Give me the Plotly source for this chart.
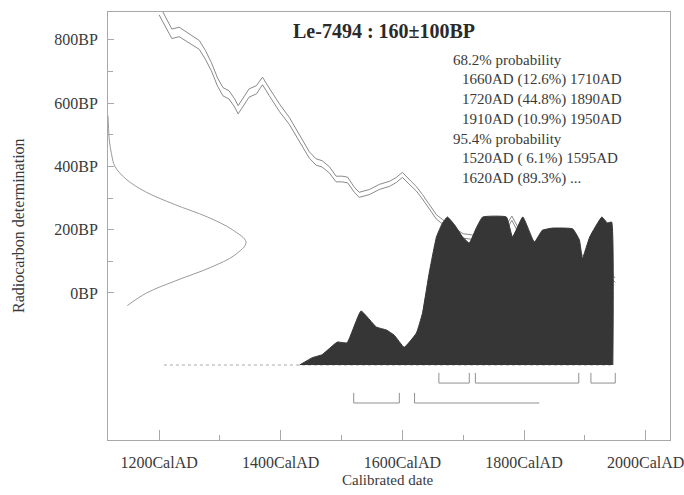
import plotly.graph_objects as go

# ---------------- data ----------------
# calibration curve: calendar year AD, radiocarbon BP (centre) and half width (BP)
curve_year = [1200, 1221, 1233, 1243, 1254, 1266, 1276, 1286, 1296, 1305, 1315, 1324, 1330,
              1340, 1348, 1360, 1370, 1381, 1398, 1414, 1431, 1447, 1458, 1468, 1480, 1491,
              1501, 1510, 1521, 1529, 1546, 1562, 1579, 1590, 1600, 1612, 1623, 1633, 1644,
              1656, 1666, 1680, 1700, 1720, 1750, 1770, 1780, 1790, 1810, 1840, 1870, 1900,
              1930, 1950]
curve_bp = [895, 819, 825, 813, 800, 784, 753, 715, 667, 636, 626, 601, 579,
            610, 632, 642, 670, 636, 585, 544, 487, 436, 414, 408, 389, 360,
            360, 357, 326, 310, 319, 335, 345, 357, 373, 351, 329, 304, 272,
            240, 225, 205, 180, 175, 190, 205, 236, 200, 160, 140, 130, 110,
            80, 40]
curve_sd = [16, 15, 15, 15, 15, 14, 14, 13, 13, 13, 13, 13, 13,
            13, 13, 13, 12, 12, 12, 11, 11, 10, 10, 10, 10, 9,
            9, 9, 8, 8, 8, 8, 8, 8, 8, 8, 7, 7, 7,
            7, 7, 7, 7, 7, 7, 7, 7, 7, 7, 7, 7, 7,
            7, 7]

# radiocarbon measurement (left-hand curve): BP value and relative density
meas_bp = [560, 520, 480, 440, 400, 360, 320, 280, 240, 200, 160, 120, 80, 40, 0, -40]
meas_p = [0.0, 0.004, 0.01, 0.025, 0.05, 0.13, 0.27, 0.48, 0.72, 0.90, 1.0, 0.92, 0.74,
          0.50, 0.28, 0.14]

# calibrated probability distribution: calendar year AD, relative probability
dist_year = [1431, 1452, 1468, 1493, 1509, 1532, 1557, 1574, 1587, 1603, 1623, 1633, 1644,
             1656, 1666, 1674, 1686, 1699, 1710, 1722, 1732, 1771, 1781, 1798, 1817, 1830,
             1847, 1880, 1891, 1896, 1908, 1928, 1937, 1944, 1946]
dist_p = [0.0, 0.05, 0.07, 0.155, 0.15, 0.365, 0.257, 0.236, 0.2, 0.12, 0.216, 0.35, 0.62,
          0.865, 0.96, 1.0, 0.946, 0.865, 0.824, 0.93, 1.0, 1.0, 0.865, 1.0, 0.83, 0.91,
          0.925, 0.92, 0.845, 0.72, 0.865, 1.0, 0.96, 0.966, 0.0]

# highest probability ranges
r68_from = [1660, 1720, 1910]
r68_to = [1710, 1890, 1950]
r95_from = [1520, 1620]
r95_to = [1595, None]   # "..." : open ended

x_tickvals = [1200, 1400, 1600, 1800, 2000]
x_ticktext = ["1200CalAD", "1400CalAD", "1600CalAD", "1800CalAD", "2000CalAD"]
x_minor = [1300, 1500, 1700, 1900]
y_tickvals = [0, 200, 400, 600, 800]
y_ticktext = ["0BP", "200BP", "400BP", "600BP", "800BP"]
y_minor = [100, 300, 500, 700]

title_text = "Le-7494 : 160±100BP"
summary_lines = ["68.2% probability",
                 "  1660AD (12.6%) 1710AD",
                 "  1720AD (44.8%) 1890AD",
                 "  1910AD (10.9%) 1950AD",
                 "95.4% probability",
                 "  1520AD ( 6.1%) 1595AD",
                 "  1620AD (89.3%) ..."]

# ---------------- layout constants ----------------
X_RANGE = [1116, 2040]
Y_RANGE = [-465, 888]
GAUSS_W = 227          # width of measurement curve in years
DIST_BASE = -228       # baseline of distribution (BP axis units)
DIST_H = 468           # height of distribution (BP axis units)
ROW68, ROW95, BRK = -285, -348, 32
OPEN_END = 1825

FONT = "Liberation Serif, Times New Roman, serif"
CURVE_C = "#8a8a8a"
TXT_C = "#3a3a3a"
AX_C = "#a8a8a8"

fig = go.Figure()

# calibration curve (two lines: +/- sigma)
fig.add_trace(go.Scatter(x=curve_year, y=[b + s for b, s in zip(curve_bp, curve_sd)],
                         mode="lines", line=dict(color=CURVE_C, width=1), hoverinfo="skip"))
fig.add_trace(go.Scatter(x=curve_year, y=[b - s for b, s in zip(curve_bp, curve_sd)],
                         mode="lines", line=dict(color=CURVE_C, width=1), hoverinfo="skip"))

# measurement curve on the left
fig.add_trace(go.Scatter(x=[X_RANGE[0] + p * GAUSS_W for p in meas_p], y=meas_bp,
                         mode="lines", line=dict(color="#9a9a9a", width=1, shape="spline"),
                         hoverinfo="skip"))

# baseline of distribution
fig.add_trace(go.Scatter(x=[1208, dist_year[-1]], y=[DIST_BASE, DIST_BASE], mode="lines",
                         line=dict(color="#aaaaaa", width=1, dash="dot"), hoverinfo="skip"))

# calibrated distribution
fig.add_trace(go.Scatter(x=dist_year, y=[DIST_BASE + p * DIST_H for p in dist_p],
                         mode="lines", fill="toself", fillcolor="#363636",
                         line=dict(color="#363636", width=1, shape="spline", smoothing=0.35),
                         hoverinfo="skip"))

# range brackets
def brackets(froms, tos, row):
    xs, ys = [], []
    for a, b in zip(froms, tos):
        if b is None:
            xs += [a, a, OPEN_END, None]
            ys += [row + BRK, row, row, None]
        else:
            xs += [a, a, b, b, None]
            ys += [row + BRK, row, row, row + BRK, None]
    return xs, ys

for fr, to, row in [(r68_from, r68_to, ROW68), (r95_from, r95_to, ROW95)]:
    bx, by = brackets(fr, to, row)
    fig.add_trace(go.Scatter(x=bx, y=by, mode="lines", line=dict(color="#909090", width=1),
                             hoverinfo="skip"))

# texts
PW, PH, ML, MT = 562, 428, 108, 12
def px(x):
    return (x - ML) / PW
def py(y):
    return 1 - (y - MT) / PH

ann = [dict(x=px(384), y=py(31), xref="paper", yref="paper", text=f"<b>{title_text}</b>",
            showarrow=False, xanchor="center", yanchor="middle",
            font=dict(family=FONT, size=20, color="#2a2a2a"))]
for i, line in enumerate(summary_lines):
    indent = line.startswith("  ")
    ann.append(dict(x=px(460 if indent else 451), y=py(60 + i * 19.7), xref="paper", yref="paper",
                    text=line.strip(), showarrow=False, xanchor="left", yanchor="middle",
                    font=dict(family=FONT, size=15, color=TXT_C)))
ann.append(dict(x=px(18), y=py(226), xref="paper", yref="paper", text="Radiocarbon determination",
                showarrow=False, textangle=-90, xanchor="center", yanchor="middle",
                font=dict(family=FONT, size=16, color=TXT_C)))
ann.append(dict(x=px(388), y=py(480), xref="paper", yref="paper", text="Calibrated date",
                showarrow=False, xanchor="center", yanchor="middle",
                font=dict(family=FONT, size=15, color=TXT_C)))

fig.update_layout(
    template="none",
    width=684, height=495,
    margin=dict(l=ML, r=684 - ML - PW, t=MT, b=495 - MT - PH, autoexpand=False),
    paper_bgcolor="white", plot_bgcolor="white",
    showlegend=False,
    annotations=ann,
    xaxis=dict(range=X_RANGE, showgrid=False, zeroline=False, showline=True, mirror=True,
               automargin=False, ticklabeloverflow="allow",
               linecolor=AX_C, linewidth=1, ticks="inside", ticklen=10, tickcolor=AX_C,
               tickvals=x_tickvals, ticktext=x_ticktext, ticklabelstandoff=8,
               tickfont=dict(family=FONT, size=16, color=TXT_C),
               minor=dict(tickvals=x_minor, ticks="inside", ticklen=5, tickcolor=AX_C)),
    yaxis=dict(range=Y_RANGE, showgrid=False, zeroline=False, showline=True, mirror=True,
               automargin=False, ticklabeloverflow="allow",
               linecolor=AX_C, linewidth=1, ticks="inside", ticklen=6, tickcolor=AX_C,
               tickvals=y_tickvals, ticktext=y_ticktext, ticklabelstandoff=6,
               tickfont=dict(family=FONT, size=16, color=TXT_C),
               minor=dict(tickvals=y_minor, ticks="inside", ticklen=5, tickcolor=AX_C)),
)

fig.write_html("out.html", config={"displayModeBar": False},
               post_script="document.body.style.margin='0';document.body.style.overflow='hidden';")
